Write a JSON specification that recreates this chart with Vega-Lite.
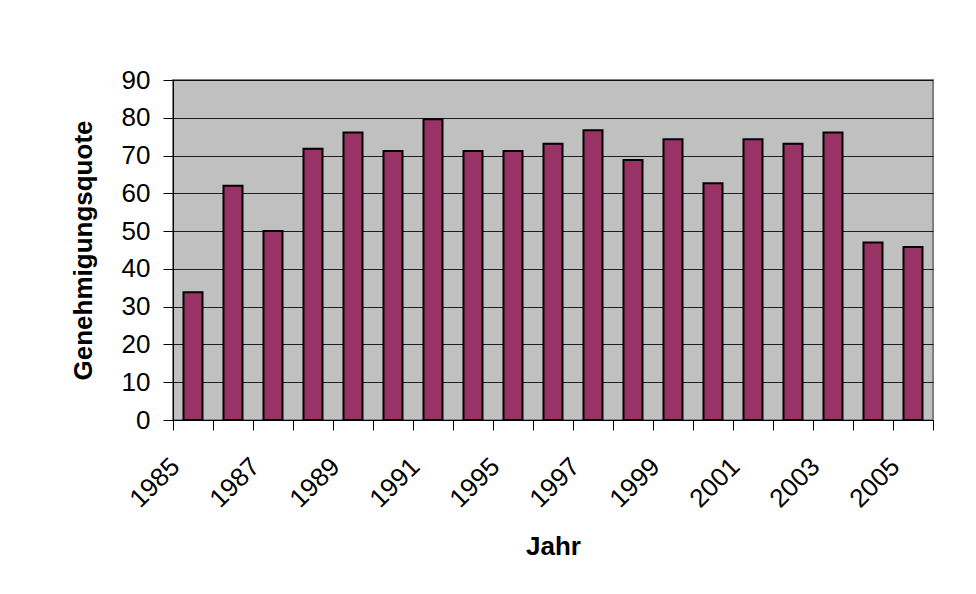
{
  "$schema": "https://vega.github.io/schema/vega-lite/v6.json",
  "width": 760,
  "height": 340,
  "autosize": {"type": "none"},
  "padding": {"left": 173, "top": 80, "right": 43, "bottom": 174},
  "background": "#ffffff",
  "data": {
    "values": [
      {"Jahr": "1985", "Genehmigungsquote": 33.8},
      {"Jahr": "1986", "Genehmigungsquote": 62.0},
      {"Jahr": "1987", "Genehmigungsquote": 50.0},
      {"Jahr": "1988", "Genehmigungsquote": 71.8},
      {"Jahr": "1989", "Genehmigungsquote": 76.1},
      {"Jahr": "1990", "Genehmigungsquote": 71.2},
      {"Jahr": "1991", "Genehmigungsquote": 79.6},
      {"Jahr": "1992-94", "Genehmigungsquote": 71.2},
      {"Jahr": "1995", "Genehmigungsquote": 71.2},
      {"Jahr": "1996", "Genehmigungsquote": 73.1},
      {"Jahr": "1997", "Genehmigungsquote": 76.7},
      {"Jahr": "1998", "Genehmigungsquote": 68.8},
      {"Jahr": "1999", "Genehmigungsquote": 74.3},
      {"Jahr": "2000", "Genehmigungsquote": 62.7},
      {"Jahr": "2001", "Genehmigungsquote": 74.3},
      {"Jahr": "2002", "Genehmigungsquote": 73.1},
      {"Jahr": "2003", "Genehmigungsquote": 76.1},
      {"Jahr": "2004", "Genehmigungsquote": 47.0},
      {"Jahr": "2005", "Genehmigungsquote": 45.8}
    ]
  },
  "mark": {"type": "bar", "fill": "#993366", "stroke": "#000000", "strokeWidth": 2, "width": {"band": 0.475}},
  "encoding": {
    "x": {
      "field": "Jahr",
      "type": "ordinal",
      "sort": null,
      "scale": {"paddingInner": 0, "paddingOuter": 0},
      "axis": {
        "title": "Jahr",
        "labelAngle": -45,
        "labelAlign": "right",
        "labelBaseline": "middle",
        "labelExpr": "indexof(['1985','1987','1989','1991','1995','1997','1999','2001','2003','2005'], datum.value) >= 0 ? datum.value : ''",
        "labelOverlap": false,
        "tickBand": "extent",
        "tickSize": 10,
        "tickColor": "#000000",
        "domainColor": "#000000",
        "labelPadding": 32,
        "labelOffset": -18,
        "labelFontSize": 26,
        "labelColor": "#000000",
        "titleFontSize": 26,
        "titleFontWeight": "bold",
        "titleColor": "#000000",
        "titlePadding": 21
      }
    },
    "y": {
      "field": "Genehmigungsquote",
      "type": "quantitative",
      "scale": {"domain": [0, 90], "nice": false},
      "axis": {
        "title": "Genehmigungsquote",
        "values": [0, 10, 20, 30, 40, 50, 60, 70, 80, 90],
        "grid": true,
        "gridColor": "#000000",
        "gridOpacity": 0.85,
        "tickSize": 10,
        "tickColor": "#000000",
        "domainColor": "#000000",
        "labelPadding": 13,
        "labelFontSize": 26,
        "labelColor": "#000000",
        "titleFontSize": 26,
        "titleFontWeight": "bold",
        "titleColor": "#000000",
        "titlePadding": 25
      }
    }
  },
  "config": {
    "font": "Liberation Sans",
    "view": {"fill": "#C0C0C0", "stroke": "#808080", "strokeWidth": 2}
  }
}
